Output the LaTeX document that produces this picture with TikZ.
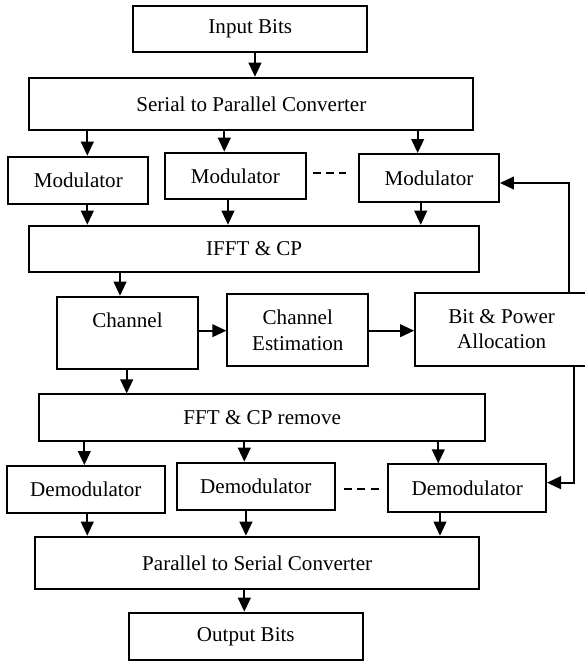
\documentclass[tikz,border=0pt]{standalone}
\usepackage{fontspec}
\setmainfont{Liberation Serif}
\usetikzlibrary{arrows.meta}

\tikzset{
  blk/.style={draw, rectangle, line width=1.4pt, align=center, inner sep=0pt,
    font=\fontsize{15.8}{19.3}\selectfont},
  arr/.style={line width=1.4pt, -{Triangle[length=10.5pt,width=9.5pt]}},
  gap/.style={line width=1.4pt, dash pattern=on 6.2pt off 3.8pt}
}

\begin{document}
\begin{tikzpicture}[x=0.75pt,y=-0.75pt]
\useasboundingbox (0,0) rectangle (585,662);

% transmitter
\node[blk,minimum width=175.5pt,minimum height=35pt] (inb) at (250.3,29) {Input Bits};
\node[blk,minimum width=333pt,minimum height=39.2pt] (sp) at (251.3,103.8) {Serial to Parallel Converter};
\node[blk,minimum width=105pt,minimum height=35.5pt] (mod1) at (78.3,180.3) {Modulator};
\node[blk,minimum width=105.5pt,minimum height=35pt] (mod2) at (235.3,176) {Modulator};
\node[blk,minimum width=105pt,minimum height=35.8pt] (mod3) at (429,177.8) {Modulator};
\node[blk,minimum width=337.3pt,minimum height=35pt] (ifft) at (254.2,249) {IFFT \& CP};

% channel and allocation
\node[blk,minimum width=105.3pt,minimum height=54.2pt] (chan) at (127.5,332.8) {Channel\\\mbox{}};
\node[blk,minimum width=105.8pt,minimum height=53.5pt] (est) at (297.8,330) {Channel\\Estimation};
\node[blk,minimum width=130pt,minimum height=54.8pt] (bpa) at (501.7,329.2) {Bit \& Power\\Allocation};

% receiver
\node[blk,minimum width=334.3pt,minimum height=35pt] (fft) at (262.2,417.7) {FFT \& CP remove};
\node[blk,minimum width=118.7pt,minimum height=35pt] (dem1) at (85.8,489.3) {Demodulator};
\node[blk,minimum width=118.7pt,minimum height=35.5pt] (dem2) at (255.8,486.3) {Demodulator};
\node[blk,minimum width=118.3pt,minimum height=35.5pt] (dem3) at (467.2,488) {Demodulator};
\node[blk,minimum width=333.2pt,minimum height=39.2pt] (ps) at (257.2,562.8) {Parallel to Serial Converter};
\node[blk,minimum width=175.3pt,minimum height=35.5pt] (outb) at (245.8,636.3) {Output Bits};

% vertical flow
\draw[arr] ([xshift=3.5pt]inb.south) -- ([xshift=3.5pt]inb.south |- sp.north);
\draw[arr] ([xshift=6.75pt]mod1.north |- sp.south) -- ([xshift=6.75pt]mod1.north);
\draw[arr] ([xshift=-8.25pt]mod2.north |- sp.south) -- ([xshift=-8.25pt]mod2.north);
\draw[arr] ([xshift=-8.5pt]mod3.north |- sp.south) -- ([xshift=-8.5pt]mod3.north);
\draw[arr] ([xshift=6.75pt]mod1.south) -- ([xshift=6.75pt]mod1.south |- ifft.north);
\draw[arr] ([xshift=-5.5pt]mod2.south) -- ([xshift=-5.5pt]mod2.south |- ifft.north);
\draw[arr] ([xshift=-6.2pt]mod3.south) -- ([xshift=-6.2pt]mod3.south |- ifft.north);
\draw[arr] ([xshift=-5.6pt]chan.north |- ifft.south) -- ([xshift=-5.6pt]chan.north);
\draw[arr] ([xshift=-0.6pt]chan.south) -- ([xshift=-0.6pt]chan.south |- fft.north);
\draw[arr] ([xshift=-1.1pt]dem1.north |- fft.south) -- ([xshift=-1.1pt]dem1.north);
\draw[arr] ([xshift=-8.6pt]dem2.north |- fft.south) -- ([xshift=-8.6pt]dem2.north);
\draw[arr] ([xshift=-21.7pt]dem3.north |- fft.south) -- ([xshift=-21.7pt]dem3.north);
\draw[arr] ([xshift=1.1pt]dem1.south) -- ([xshift=1.1pt]dem1.south |- ps.north);
\draw[arr] ([xshift=-7.4pt]dem2.south) -- ([xshift=-7.4pt]dem2.south |- ps.north);
\draw[arr] ([xshift=-20.4pt]dem3.south) -- ([xshift=-20.4pt]dem3.south |- ps.north);
\draw[arr] ([xshift=-1.1pt]outb.north |- ps.south) -- ([xshift=-1.1pt]outb.north);

% estimation and feedback
\draw[arr] ([yshift=1.6pt]chan.east) -- ([yshift=1.6pt]chan.east -| est.west);
\draw[arr] ([yshift=1.6pt]chan.east -| est.east) -- ([yshift=1.6pt]chan.east -| bpa.west);
\draw[arr] ([xshift=50.3pt]bpa.north) |- ([yshift=-3.9pt]mod3.east);
\draw[arr] ([xshift=54.5pt]bpa.south) |- ([yshift=4pt]dem3.east);

% dots between branches
\draw[gap] ([xshift=4.5pt,yshift=2.5pt]mod2.east) -- ([xshift=-9pt,yshift=2.5pt]mod2.east -| mod3.west);
\draw[gap] ([xshift=6pt,yshift=-2.2pt]dem2.east) -- ([xshift=-6.2pt,yshift=-2.2pt]dem2.east -| dem3.west);

\end{tikzpicture}
\end{document}
